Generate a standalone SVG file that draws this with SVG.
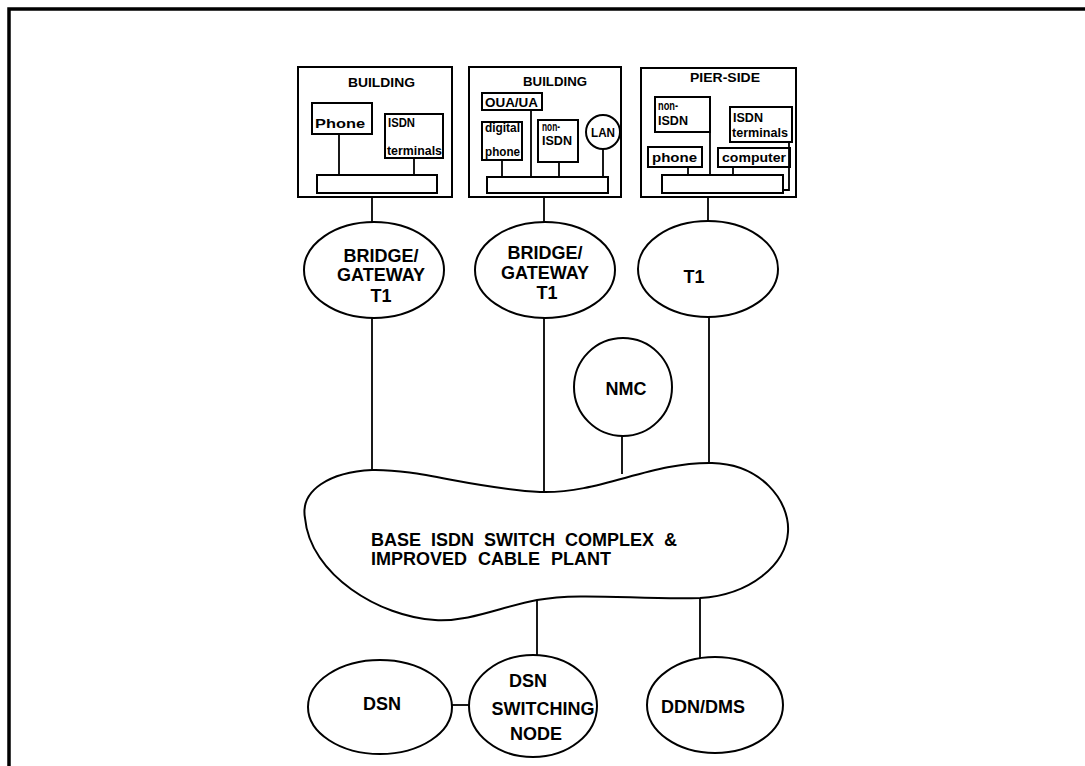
<svg xmlns="http://www.w3.org/2000/svg" width="1085" height="766" viewBox="0 0 1085 766">
<style>
  .s{fill:none;stroke:#000;stroke-width:2}
  .n{fill:#fff;stroke:#000;stroke-width:2}
  .t{font-family:"Liberation Sans",Arial,sans-serif;font-weight:bold;fill:#000}
  .L{font-size:18px;text-anchor:middle}
  .m{font-size:12px}
  .c{stroke:#000;stroke-width:1.8;fill:none}
</style>
<rect width="1085" height="766" fill="#fff"/>
<g id="frame">
  <path d="M9 766 V9 H1085" fill="none" stroke="#000" stroke-width="3.5"/>
</g>
<g id="connectors">
  <line class="c" x1="339" y1="134" x2="339" y2="175"/>
  <line class="c" x1="414" y1="158" x2="414" y2="175"/>
  <line class="c" x1="531" y1="110" x2="531" y2="177"/>
  <line class="c" x1="502" y1="160" x2="502" y2="177"/>
  <line class="c" x1="559" y1="162" x2="559" y2="177"/>
  <line class="c" x1="603" y1="149" x2="603" y2="177"/>
  <line class="c" x1="710" y1="132" x2="710" y2="175"/>
  <line class="c" x1="688" y1="167" x2="688" y2="175"/>
  <line class="c" x1="733" y1="167" x2="733" y2="175"/>
  <path class="c" d="M789 142 V190 H783"/>
  <line class="c" x1="372" y1="197" x2="372" y2="222"/>
  <line class="c" x1="544" y1="197" x2="544" y2="222"/>
  <line class="c" x1="708" y1="197" x2="708" y2="221"/>
  <line class="c" x1="372" y1="318" x2="372" y2="471"/>
  <line class="c" x1="544" y1="318" x2="544" y2="492"/>
  <line class="c" x1="709" y1="317" x2="709" y2="464"/>
  <line class="c" x1="622" y1="436" x2="622" y2="474"/>
  <line class="c" x1="537" y1="600" x2="537" y2="656"/>
  <line class="c" x1="700" y1="598" x2="700" y2="658"/>
  <line class="c" x1="452" y1="705" x2="470" y2="705"/>
</g>
<g id="building1">
  <rect class="s" x="298" y="67" width="154" height="130"/>
  <text class="t m" x="348" y="87" textLength="67" lengthAdjust="spacingAndGlyphs">BUILDING</text>
  <rect class="s" x="312" y="103" width="60" height="31"/>
  <text class="t" x="315" y="128" font-size="13" textLength="50" lengthAdjust="spacingAndGlyphs">Phone</text>
  <rect class="s" x="385" y="114" width="58" height="44"/>
  <text class="t m" x="388" y="127" textLength="27" lengthAdjust="spacingAndGlyphs">ISDN</text>
  <text class="t m" x="387" y="155" textLength="55" lengthAdjust="spacingAndGlyphs">terminals</text>
  <rect class="s" x="317" y="175" width="120" height="18"/>
</g>
<g id="building2">
  <rect class="s" x="469" y="67" width="152" height="130"/>
  <text class="t m" x="523" y="86" textLength="64" lengthAdjust="spacingAndGlyphs">BUILDING</text>
  <rect class="s" x="482" y="93" width="60" height="17"/>
  <text class="t m" x="485" y="107" textLength="53" lengthAdjust="spacingAndGlyphs">OUA/UA</text>
  <rect class="s" x="482" y="122" width="40" height="38"/>
  <text class="t m" x="485" y="132" textLength="35" lengthAdjust="spacingAndGlyphs">digital</text>
  <text class="t m" x="485" y="156" textLength="35" lengthAdjust="spacingAndGlyphs">phone</text>
  <rect class="s" x="538" y="120" width="40" height="42"/>
  <text class="t m" x="542" y="131" textLength="18" lengthAdjust="spacingAndGlyphs">non-</text>
  <text class="t m" x="542" y="145" textLength="30" lengthAdjust="spacingAndGlyphs">ISDN</text>
  <circle class="s" cx="603" cy="132" r="17"/>
  <text class="t m" x="603" y="137" text-anchor="middle" textLength="24" lengthAdjust="spacingAndGlyphs">LAN</text>
  <rect class="s" x="487" y="177" width="121" height="16"/>
</g>
<g id="pierside">
  <rect class="s" x="641" y="68" width="155" height="129"/>
  <text class="t m" x="690" y="82" textLength="70" lengthAdjust="spacingAndGlyphs">PIER-SIDE</text>
  <rect class="s" x="655" y="97" width="55" height="35"/>
  <text class="t m" x="658" y="110" textLength="20" lengthAdjust="spacingAndGlyphs">non-</text>
  <text class="t m" x="658" y="125" textLength="30" lengthAdjust="spacingAndGlyphs">ISDN</text>
  <rect class="s" x="730" y="107" width="62" height="35"/>
  <text class="t m" x="733" y="122" textLength="30" lengthAdjust="spacingAndGlyphs">ISDN</text>
  <text class="t m" x="732" y="137" textLength="56" lengthAdjust="spacingAndGlyphs">terminals</text>
  <rect class="s" x="648" y="147" width="54" height="20"/>
  <text class="t m" x="652" y="162" textLength="45" lengthAdjust="spacingAndGlyphs">phone</text>
  <rect class="s" x="718" y="148" width="72" height="19"/>
  <text class="t m" x="722" y="162" textLength="64" lengthAdjust="spacingAndGlyphs">computer</text>
  <rect class="s" x="662" y="175" width="121" height="18"/>
</g>
<g id="gateway1">
  <ellipse class="n" cx="374" cy="270" rx="70" ry="48"/>
  <text class="t L" x="381" y="262">BRIDGE/</text>
  <text class="t L" x="381" y="281">GATEWAY</text>
  <text class="t L" x="381" y="302">T1</text>
</g>
<g id="gateway2">
  <ellipse class="n" cx="545" cy="270" rx="70" ry="48"/>
  <text class="t L" x="545" y="259">BRIDGE/</text>
  <text class="t L" x="545" y="279">GATEWAY</text>
  <text class="t L" x="547" y="299">T1</text>
</g>
<g id="t1">
  <ellipse class="n" cx="708" cy="269" rx="70" ry="48"/>
  <text class="t L" x="694" y="283">T1</text>
</g>
<g id="nmc">
  <circle class="n" cx="623" cy="387" r="49"/>
  <text class="t L" x="626" y="395">NMC</text>
</g>
<g id="switch-complex">
  <path class="n" d="M305 518 C300 490,330 472,372 470 C420 469,470 488,540 492 C600 494,650 462,712 463 C760 464,790 500,788 532 C786 565,750 595,700 598 C640 600,580 592,537 600 C500 607,470 622,435 620 C380 617,310 575,305 518 Z"/>
  <text class="t" x="371" y="546" font-size="18" word-spacing="5">BASE ISDN SWITCH COMPLEX &amp;</text>
  <text class="t" x="371" y="565" font-size="18" word-spacing="6">IMPROVED CABLE PLANT</text>
</g>
<g id="dsn">
  <ellipse class="n" cx="380" cy="707" rx="72" ry="47"/>
  <text class="t L" x="382" y="710">DSN</text>
</g>
<g id="dsn-switching-node">
  <ellipse class="n" cx="533" cy="706" rx="64" ry="51"/>
  <text class="t L" x="528" y="687">DSN</text>
  <text class="t L" x="543" y="715">SWITCHING</text>
  <text class="t L" x="536" y="740">NODE</text>
</g>
<g id="ddn-dms">
  <ellipse class="n" cx="715" cy="705" rx="68" ry="48"/>
  <text class="t L" x="703" y="713">DDN/DMS</text>
</g>
</svg>
